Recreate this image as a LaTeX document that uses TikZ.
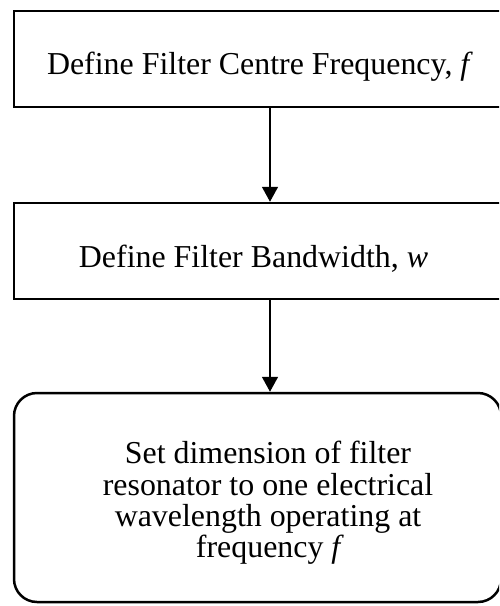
\documentclass[tikz,border=0pt]{standalone}
\usepackage{fontspec}
\setmainfont{Liberation Serif}
\usetikzlibrary{arrows.meta}
\begin{document}
\begin{tikzpicture}[x=1pt,y=-1pt,
  stepbox/.style={draw,line width=2.5pt,inner sep=0pt},
  steptext/.style={inner sep=0pt,anchor=base,font=\fontsize{31.9}{31.5}\selectfont},
  flow/.style={line width=1.6pt,-{Triangle[length=15pt,width=16pt]}}]
\useasboundingbox[fill=white] (0,0) rectangle (499,606);
\clip (0,0) rectangle (499,606);

% process boxes (they run past the right-hand border)
\node[stepbox,minimum width=496pt,minimum height=96pt] (b1) at (262,59) {};
\node[stepbox,minimum width=496pt,minimum height=96pt] (b2) at (262,251) {};
\node[stepbox,rounded corners=23pt,minimum width=487pt,minimum height=209pt] (b3) at (257.5,497.5) {};

% box texts
\node[steptext] (t1) at (260,74) {Define Filter Centre Frequency, \textit{f}};
\node[steptext] (t2) at (253.5,267) {Define Filter Bandwidth, \textit{w}};
\node[steptext] (t3a) at (268,463) {Set dimension of filter};
\node[steptext] (t3b) at (268,495) {resonator to one electrical};
\node[steptext] (t3c) at (268,526) {wavelength operating at};
\node[steptext] (t3d) at (270,557) {frequency \textit{f}};

% connectors
\coordinate (ax) at (270,0);
\draw[flow] (b1.south -| ax) -- (b2.north -| ax);
\draw[flow] (b2.south -| ax) -- (b3.north -| ax);
\end{tikzpicture}
\end{document}
